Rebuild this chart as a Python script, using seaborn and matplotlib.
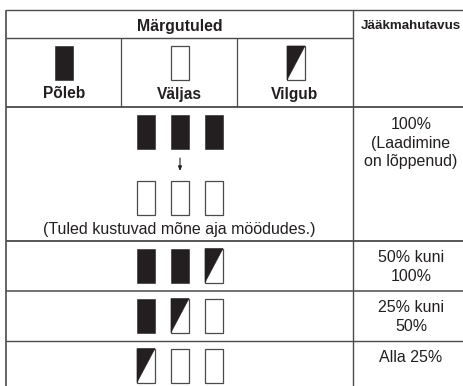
import matplotlib
matplotlib.use('Agg')
import matplotlib.pyplot as plt
from matplotlib.patches import Rectangle, Polygon
import seaborn as sns

sns.set_theme(style='white')
plt.rcParams['font.family'] = ['Liberation Sans', 'DejaVu Sans']

# tabeli sisu
header_main = 'Märgutuled'
header_side = 'Jääkmahutavus'
legend_labels = ['Põleb', 'Väljas', 'Vilgub']
legend_states = ['on', 'off', 'blink']
row_full_top = ['on', 'on', 'on']
row_full_bottom = ['off', 'off', 'off']
row_50 = ['on', 'on', 'blink']
row_25 = ['on', 'blink', 'off']
row_0 = ['blink', 'off', 'off']
note = '(Tuled kustuvad mõne aja möödudes.)'
cap_100 = '100%\n(Laadimine\non lõppenud)'
cap_50 = '50% kuni\n100%'
cap_25 = '25% kuni\n50%'
cap_0 = 'Alla 25%'

INK = '#231f20'
LINE = '#4a4a4a'

fig = plt.figure(figsize=(4.64, 3.86), dpi=100)
ax = fig.add_axes([0, 0, 1, 1])
ax.set_xlim(0, 464)
ax.set_ylim(386, 0)
ax.axis('off')


def lamp(x, y, state, w=18, h=34):
    if state == 'on':
        ax.add_patch(Rectangle((x, y), w, h, fc=INK, ec=INK, lw=0.4))
    elif state == 'off':
        ax.add_patch(Rectangle((x, y), w, h, fc='white', ec=LINE, lw=0.9))
    else:
        ax.add_patch(Rectangle((x, y), w, h, fc='white', ec=LINE, lw=0.9))
        ax.add_patch(Polygon([(x, y), (x + w, y), (x, y + h)], fc=INK, ec=INK, lw=0.4))


# jooned
for y, x0, x1, lw in [(9.5, 6, 464, 1.0), (38, 6, 353, 1.0), (107, 6, 464, 1.3),
                      (240.5, 6, 464, 1.3), (290.5, 6, 464, 1.1), (340.5, 6, 464, 1.0)]:
    ax.plot([x0, x1], [y, y], color=LINE, lw=lw, solid_capstyle='butt')
for x, y0, y1, lw in [(6, 9.5, 386, 1.2), (121.5, 38, 107, 0.9), (237.5, 38, 107, 0.9),
                      (353.5, 9.5, 386, 1.0)]:
    ax.plot([x, x], [y0, y1], color=LINE, lw=lw, solid_capstyle='butt')

# päis
ax.text(179.5, 26, header_main, ha='center', va='center', fontsize=11.4,
        fontweight='bold', color=INK)
ax.text(411, 26, header_side, ha='center', va='center', fontsize=9.6,
        fontweight='bold', color=INK)

for x, state, label, tx in zip([55, 171, 287], legend_states, legend_labels, [64, 179, 295]):
    lamp(x, 46, state)
    ax.text(tx, 94, label, ha='center', va='center', fontsize=11.2,
            fontweight='bold', color=INK)

# märgutuled ridade kaupa
xs = [137, 171, 205]
for states, y in [(row_full_top, 115), (row_full_bottom, 181), (row_50, 248.5),
                  (row_25, 298.5), (row_0, 348.5)]:
    for x, state in zip(xs, states):
        lamp(x, y, state)

ax.annotate('', xy=(180, 171), xytext=(180, 158),
            arrowprops=dict(arrowstyle='-|>,head_width=0.09,head_length=0.22', color=INK, lw=0.8,
                            shrinkA=0, shrinkB=0))
ax.text(179.5, 229.5, note, ha='center', va='center', fontsize=11.5, color=INK)

# jääkmahutavus
for txt, y in [(cap_100, 117), (cap_50, 250), (cap_25, 300.5)]:
    ax.text(411, y, txt, ha='center', va='top', fontsize=11.5, color=INK,
            linespacing=1.3)
ax.text(411, 350, cap_0, ha='center', va='top', fontsize=11.5, color=INK)

fig.savefig('out.png', dpi=100)
